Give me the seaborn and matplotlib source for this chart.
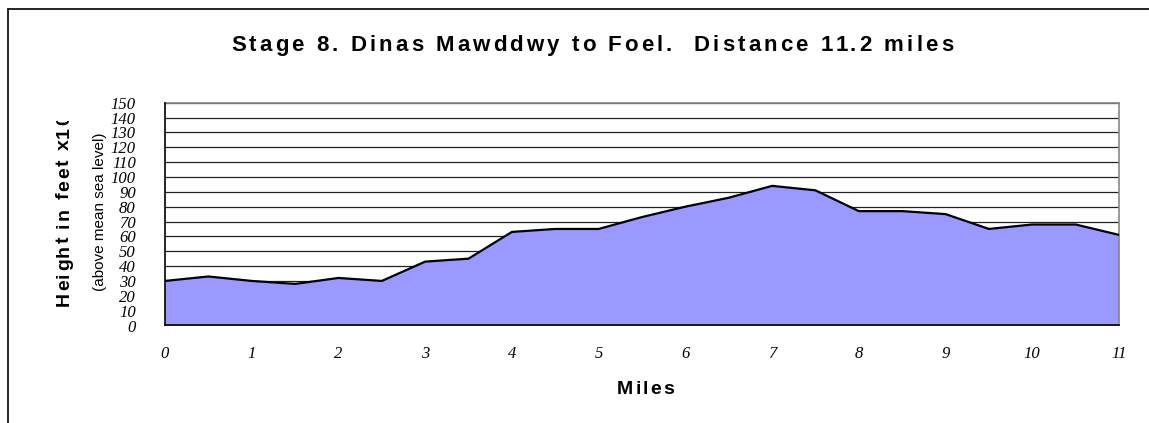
import numpy as np
import pandas as pd
import matplotlib
matplotlib.use("Agg")
import matplotlib.pyplot as plt
from matplotlib.lines import Line2D
from matplotlib.transforms import Bbox
from matplotlib.font_manager import FontProperties
import seaborn as sns

# ---- data ----
miles = [0, 0.5, 1, 1.5, 2, 2.5, 3, 3.5, 4, 4.5, 5, 5.5, 6, 6.5, 7, 7.5,
         8, 8.5, 9, 9.5, 10, 10.5, 11]
height = [30, 33, 30, 28, 32, 30, 43, 45, 63, 65, 65, 73, 80, 86, 94, 91,
          77, 77, 75, 65, 68, 68, 61]
x_ticklabels = [str(i) for i in range(12)]
y_ticks = list(range(0, 151, 10))
title = "Stage 8. Dinas Mawddwy to Foel.  Distance 11.2 miles"
x_label = "Miles"
y_label = "Height in feet x10"
y_label2 = "(above mean sea level)"

df = pd.DataFrame({"miles": miles, "height": height})

sns.set_style("white")
plt.rcParams["font.family"] = ["Liberation Sans", "DejaVu Sans"]
plt.rcParams["text.color"] = "black"
plt.rcParams["xtick.color"] = "black"
plt.rcParams["ytick.color"] = "black"

W, H = 1149, 423
fig = plt.figure(figsize=(W / 100, H / 100), dpi=100)
renderer = fig.canvas.get_renderer()


def _width(s, fp):
    bar = renderer.get_text_width_height_descent("|", fp, ismath=False)[0]
    return renderer.get_text_width_height_descent(s + "|", fp, ismath=False)[0] - bar


def spaced_text(s, start_px, fontsize, gap=None, span_px=None, angle=0, clip=None):
    """Draw s with extra letter spacing (gap px, or fitted to span_px).
    start_px: (x, y) of the baseline start, in pixels from the top-left."""
    fp = FontProperties(family="Liberation Sans", weight="bold", size=fontsize)
    if gap is None:
        gap = (span_px - _width(s, fp)) / max(len(s) - 1, 1)
    x0, y0 = start_px
    for i, ch in enumerate(s):
        off = _width(s[:i], fp) + i * gap if i else 0.0
        if angle == 0:
            px, py = x0 + off, y0
        else:
            px, py = x0, y0 - off
        t = fig.text(px / W, 1 - py / H, ch, fontproperties=fp, rotation=angle,
                     rotation_mode="anchor", ha="left", va="baseline")
        if clip is not None:
            t.set_clip_box(clip)
            t.set_clip_on(True)


ax = fig.add_axes([165 / W, 1 - 325.5 / H, (1119 - 165) / W, (325.5 - 102.7) / H])

ax.fill_between(df["miles"], df["height"], 0, color="#9999FF", zorder=2, linewidth=0)
sns.lineplot(data=df, x="miles", y="height", ax=ax, color="black", linewidth=1.6, zorder=3)

ax.set_xlim(0, 11)
ax.set_ylim(0, 150)
ax.set_yticks(y_ticks)
ax.set_yticklabels([str(v) for v in y_ticks], fontfamily="Liberation Serif",
                   fontstyle="italic", fontsize=12)
ax.set_xticks(range(12))
ax.set_xticklabels(x_ticklabels, fontfamily="Liberation Serif", fontstyle="italic", fontsize=12)
ax.set_xticks(np.arange(0.5, 11, 1), minor=True)
ax.tick_params(axis="both", which="both", direction="out", length=5, width=1, color="black")
ax.tick_params(axis="y", pad=16)
ax.tick_params(axis="x", pad=10)
ax.tick_params(axis="x", which="minor", length=5)
ax.yaxis.grid(True, color="#222222", linewidth=0.9, zorder=1)
ax.set_axisbelow(True)
ax.xaxis.grid(False)

for s in ["left", "bottom"]:
    ax.spines[s].set_color("black")
    ax.spines[s].set_linewidth(1.2)
for s in ["top", "right"]:
    ax.spines[s].set_color("#888888")
    ax.spines[s].set_linewidth(1.2)
ax.spines["left"].set_zorder(5)
ax.spines["bottom"].set_zorder(5)

ax.set_xlabel("")
ax.set_ylabel("")

# title, x label, y label with expanded letter spacing
spaced_text(title, (231, 51), 16, span_px=722)
spaced_text(x_label, (617, 394), 14, span_px=57)
spaced_text(y_label, (69, 306), 14, gap=1.8, angle=90,
            clip=Bbox.from_extents(0, 0, W, H - 121))
fig.text(100 / W, 1 - 212 / H, y_label2, ha="center", va="center",
         rotation=90, fontsize=11)

# chart frame
fig.add_artist(Line2D([8 / W, 8 / W], [0, 1 - 9 / H], transform=fig.transFigure,
                      color="black", linewidth=1.2))
fig.add_artist(Line2D([8 / W, 1], [1 - 9 / H, 1 - 9 / H], transform=fig.transFigure,
                      color="black", linewidth=1.2))

fig.savefig("out.png", dpi=100)
